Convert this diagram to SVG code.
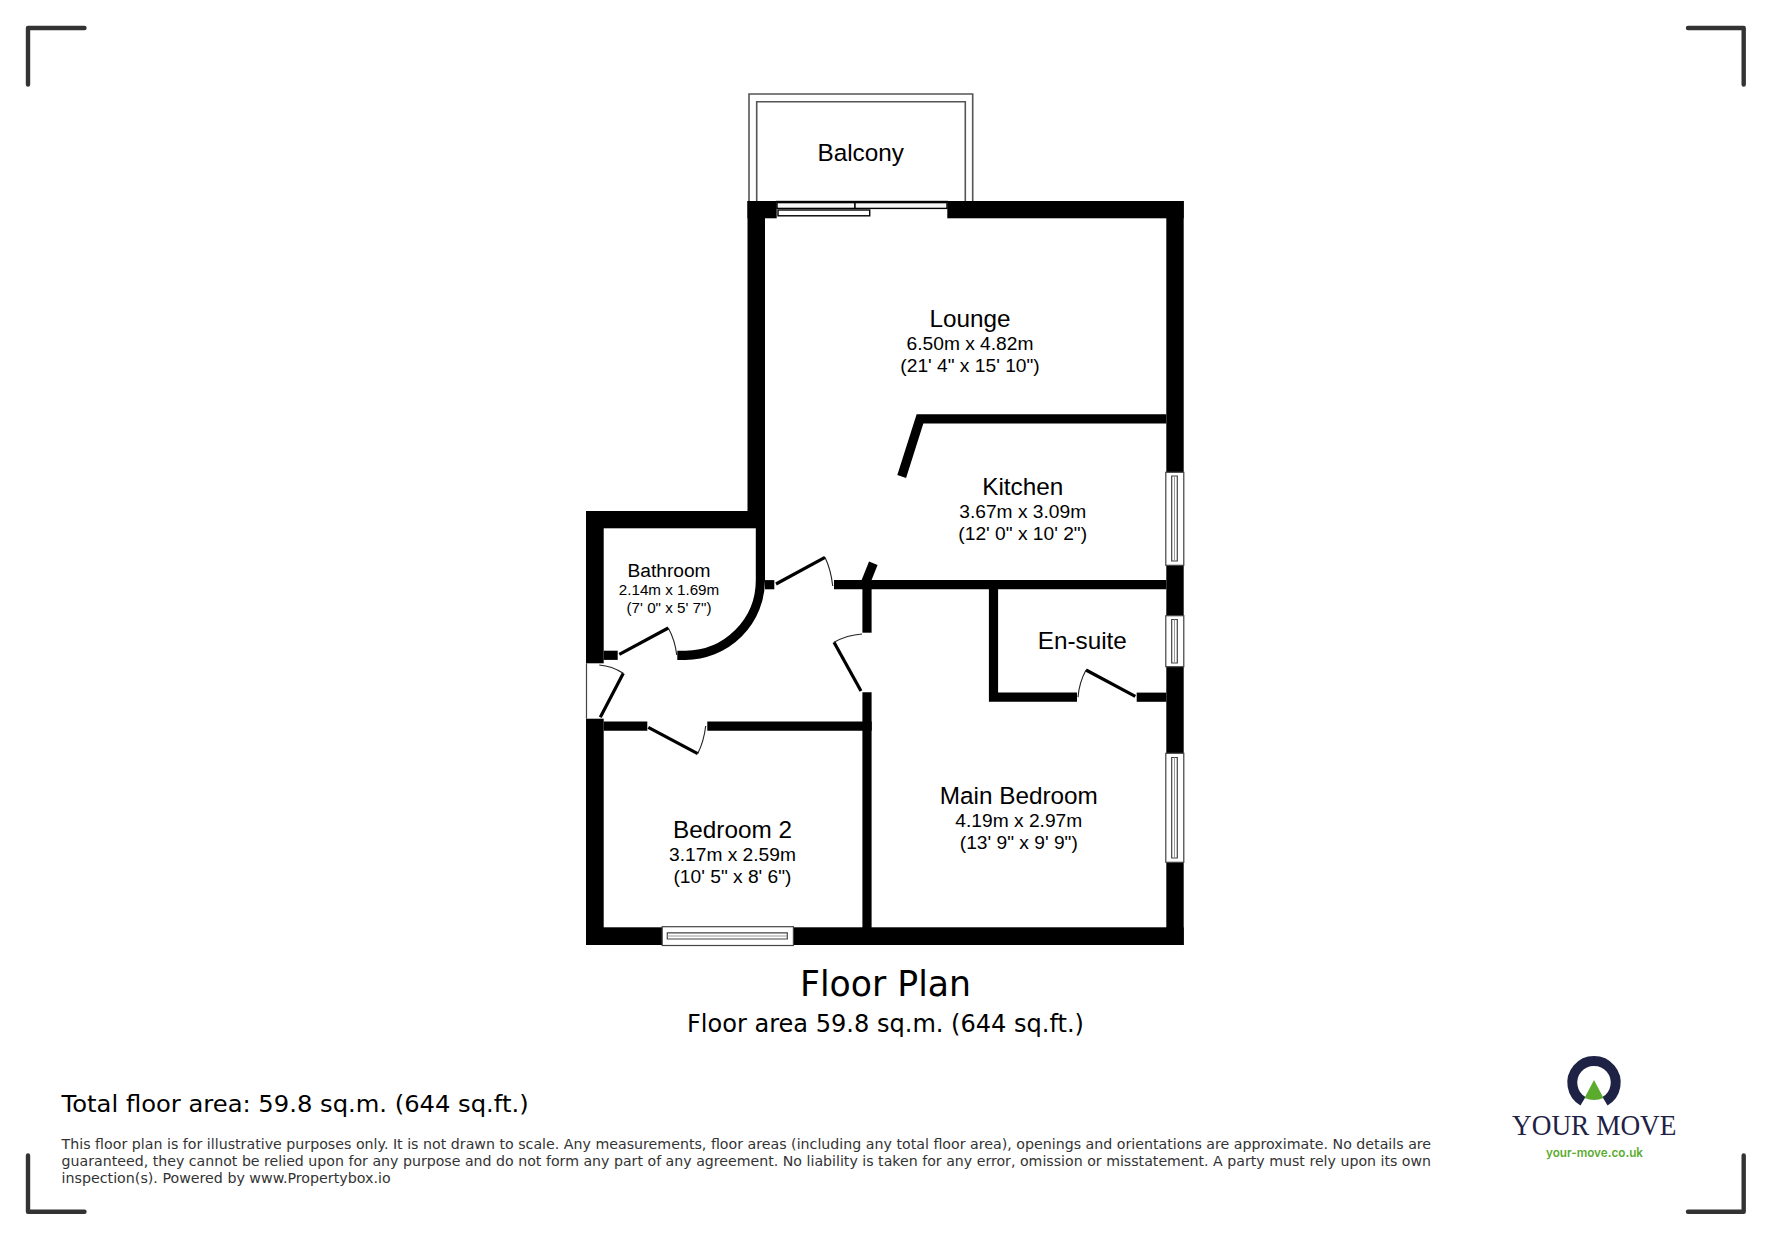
<svg xmlns="http://www.w3.org/2000/svg" width="1771" height="1239" viewBox="0 0 1771 1239">
<style>
.bg{fill:#fff}
.w{fill:#000}
.t{fill:none;stroke:#000;stroke-width:9.2;stroke-linejoin:miter}
.leaf{fill:none;stroke:#000;stroke-width:3.2}
.sw{fill:none;stroke:#222;stroke-width:1.1}
.win{fill:#fff;stroke:#444;stroke-width:1.2}
.rail{fill:#f6f6f6;stroke:#000;stroke-width:1.4}
.sash{fill:none;stroke:#444;stroke-width:1.2}
.mid{fill:none;stroke:#999;stroke-width:1}
.bal{fill:none;stroke:#555;stroke-width:1.6}
.crop{fill:none;stroke:#333;stroke-width:4.4;stroke-linecap:round;stroke-linejoin:round}
.r{font-family:"Liberation Sans",Arial,sans-serif;fill:#000;text-anchor:middle}
.n{font-size:24.3px}.d{font-size:19.2px}.s{font-size:15.2px}
.v{font-family:"DejaVu Sans",Verdana,sans-serif}
</style>
<rect class="bg" width="1771" height="1239"/>
<g id="crop-marks">
<path class="crop" d="M28 84.5V28H84.5"/>
<path class="crop" d="M1688 28H1743.7V84.5"/>
<path class="crop" d="M28 1155.5V1211.7H84.5"/>
<path class="crop" d="M1743.7 1155.5V1211.7H1688"/>
</g>
<g id="balcony">
<path class="bal" d="M749 201V94H972.7V201"/>
<path class="bal" d="M756.7 201V101.7H965.3V201"/>
<text class="r n" x="860.7" y="161">Balcony</text>
</g>
<g id="walls">
<rect class="w" x="947.3" y="201" width="236.4" height="17.3"/>
<rect class="w" x="747.5" y="201" width="29.2" height="17.3"/>
<rect class="w" x="747.5" y="201" width="17.5" height="327"/>
<rect class="w" x="586" y="511" width="179" height="17.3"/>
<rect class="w" x="586" y="511" width="17.7" height="152.3"/>
<rect class="w" x="586" y="718.7" width="17.7" height="226.3"/>
<rect class="w" x="586" y="927.3" width="597.7" height="17.7"/>
<rect class="w" x="1166.3" y="201" width="17.4" height="744"/>
<path class="t" d="M760.4 528V580.3A75 75 0 0 1 685.3 655.3H677.3"/>
<path class="t" d="M603.7 655.3H617.7"/>
<path class="t" d="M765 584.7H774.3"/>
<path class="t" d="M834 584.7H1166.3"/>
<path class="t" d="M873.3 563.3L865 584"/>
<path class="t" d="M901.7 476.5L920 418.8H1166.3"/>
<path class="t" d="M867 580V632.7"/>
<path class="t" d="M867 692.3V930"/>
<path class="t" d="M603.7 726.2H647.3"/>
<path class="t" d="M707.3 726.2H871.7"/>
<path class="t" d="M993.5 589V697.2H1077"/>
<path class="t" d="M1136.7 697.2H1166.3"/>
</g>
<g id="doors">
<path class="win" d="M586.5 663.3V718.7"/>
<path class="leaf" d="M600.3 717.3L623.3 673.3"/>
<path class="sw" d="M623.3 673.3Q612 666 599.3 665"/>
<path class="leaf" d="M619.3 654.3L668.3 628"/>
<path class="sw" d="M668.3 628Q675 640 676.7 655"/>
<path class="leaf" d="M776 584L825 557.3"/>
<path class="sw" d="M825 557.3Q831 570 832.7 586"/>
<path class="leaf" d="M861 691L834 642.3"/>
<path class="sw" d="M834 642.3Q847 635 862 634"/>
<path class="leaf" d="M648.3 727.3L697.7 753.7"/>
<path class="sw" d="M697.7 753.7Q704 741 705.7 726"/>
<path class="leaf" d="M1135.3 696.3L1086 670"/>
<path class="sw" d="M1086 670Q1079 683 1078 697.3"/>
</g>
<g id="sliding-door">
<rect class="w" x="776" y="200.8" width="172" height="1.5"/>
<rect class="rail" x="777" y="202.6" width="78" height="5.8"/>
<rect class="rail" x="855" y="202.6" width="92" height="5.8"/>
<rect class="rail" style="fill:#fff" x="778" y="210" width="91.7" height="5.8"/>
</g>
<g id="windows">
<g id="window-kitchen">
<rect class="win" x="1165.8" y="472.3" width="18" height="93"/>
<path class="sash" d="M1171.7 476H1177.3V561H1171.7Z"/>
<path class="mid" d="M1174.5 476V561"/>
</g>
<g id="window-ensuite">
<rect class="win" x="1165.8" y="615.7" width="18" height="51"/>
<path class="sash" d="M1171.7 619.5H1177.3V663H1171.7Z"/>
<path class="mid" d="M1174.5 619.5V663"/>
</g>
<g id="window-main-bedroom">
<rect class="win" x="1165.8" y="753.3" width="18" height="109"/>
<path class="sash" d="M1171.7 757.5H1177.3V858H1171.7Z"/>
<path class="mid" d="M1174.5 757.5V858"/>
</g>
<g id="window-bedroom2">
<rect class="win" x="662.2" y="926.7" width="131.2" height="18.8"/>
<path class="sash" d="M667.3 932.8H787.3V939H667.3Z"/>
<path class="mid" d="M667.3 936H787.3"/>
</g>
</g>
<g id="lounge"><text class="r n" x="970" y="326.9">Lounge</text><text class="r d" x="970" y="350">6.50m x 4.82m</text><text class="r d" x="970" y="372">(21' 4" x 15' 10")</text></g>
<g id="kitchen"><text class="r n" x="1022.7" y="495">Kitchen</text><text class="r d" x="1022.7" y="517.7">3.67m x 3.09m</text><text class="r d" x="1022.7" y="540">(12' 0" x 10' 2")</text></g>
<g id="ensuite"><text class="r n" x="1082.3" y="649">En-suite</text></g>
<g id="bathroom"><text class="r d" x="669" y="577.3">Bathroom</text><text class="r s" x="669" y="594.7">2.14m x 1.69m</text><text class="r s" x="669" y="613.3">(7' 0" x 5' 7")</text></g>
<g id="bedroom2"><text class="r n" x="732.5" y="837.8">Bedroom 2</text><text class="r d" x="732.5" y="860.7">3.17m x 2.59m</text><text class="r d" x="732.5" y="882.7">(10' 5" x 8' 6")</text></g>
<g id="main-bedroom"><text class="r n" x="1018.8" y="803.8">Main Bedroom</text><text class="r d" x="1018.8" y="826.7">4.19m x 2.97m</text><text class="r d" x="1018.8" y="849.3">(13' 9" x 9' 9")</text></g>
<g id="titles">
<text class="v" x="800" y="996" font-size="36" textLength="171" lengthAdjust="spacingAndGlyphs" fill="#000">Floor Plan</text>
<text class="v" x="687" y="1032" font-size="24" textLength="397" lengthAdjust="spacingAndGlyphs" fill="#000">Floor area 59.8 sq.m. (644 sq.ft.)</text>
<text class="v" x="61.6" y="1111.7" font-size="23" textLength="467" lengthAdjust="spacingAndGlyphs" fill="#000">Total floor area: 59.8 sq.m. (644 sq.ft.)</text>
</g>
<g id="disclaimer" fill="#333">
<text class="v" x="61.6" y="1149" font-size="14" textLength="1369.5" lengthAdjust="spacingAndGlyphs">This floor plan is for illustrative purposes only. It is not drawn to scale. Any measurements, floor areas (including any total floor area), openings and orientations are approximate. No details are</text>
<text class="v" x="61.6" y="1166" font-size="14" textLength="1369.5" lengthAdjust="spacingAndGlyphs">guaranteed, they cannot be relied upon for any purpose and do not form any part of any agreement. No liability is taken for any error, omission or misstatement. A party must rely upon its own</text>
<text class="v" x="61.6" y="1183" font-size="14" textLength="329" lengthAdjust="spacingAndGlyphs">inspection(s). Powered by www.Propertybox.io</text>
</g>
<g id="logo">
<path d="M1583 1101.3A21.7 21.7 0 1 1 1605 1101.3" fill="none" stroke="#1e2245" stroke-width="10"/>
<path d="M1594 1080L1603.5 1098Q1594 1102 1584.5 1098Z" fill="#5bab2f"/>
<text x="1512" y="1135" font-family="Liberation Serif,serif" font-size="30" textLength="164.5" lengthAdjust="spacingAndGlyphs" fill="#1e2245">YOUR MOVE</text>
<text x="1546" y="1156.7" font-family="Inter,sans-serif" font-weight="600" font-size="12.5" textLength="97" lengthAdjust="spacingAndGlyphs" fill="#5bab2f">your-move.co.uk</text>
</g>
</svg>
